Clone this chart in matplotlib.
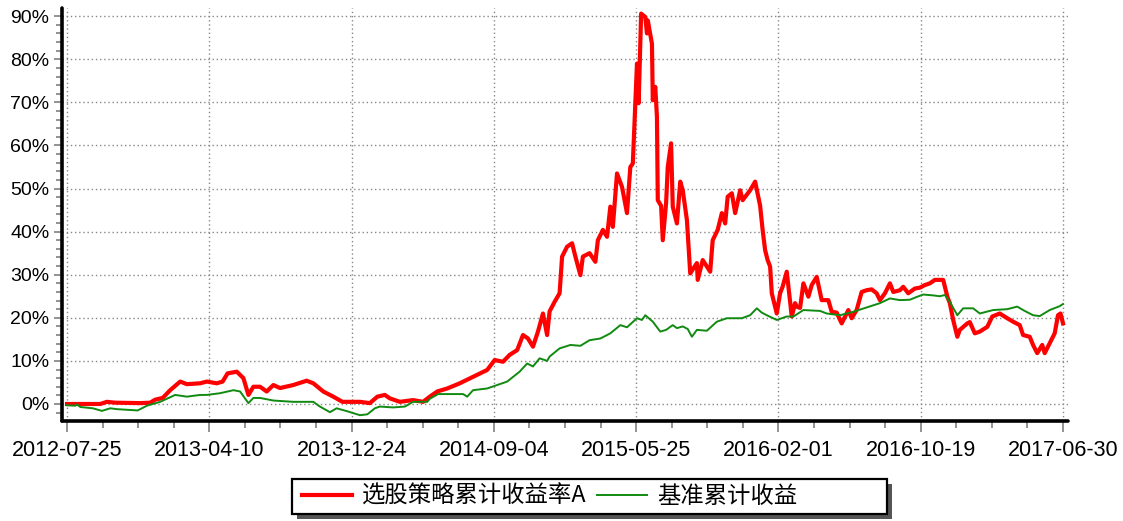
import matplotlib
matplotlib.use("Agg")
import matplotlib.pyplot as plt
from matplotlib.patches import Rectangle
from matplotlib.ticker import FixedLocator, MultipleLocator, FuncFormatter

plt.rcParams['font.family'] = ['Liberation Sans', 'Noto Sans CJK SC', 'DejaVu Sans']

# trading-day index, tick every 171 trading days
tick_days = [0, 171, 342, 513, 684, 855, 1026, 1197]
tick_labels = ['2012-07-25', '2013-04-10', '2013-12-24', '2014-09-04',
               '2015-05-25', '2016-02-01', '2016-10-19', '2017-06-30']

strategy_days = [0, 40, 48, 58, 88, 100, 106, 115, 124, 136, 144, 160, 168, 180, 187, 193, 204, 212,
                 218, 224, 232, 240, 248, 256, 272, 288, 296, 308, 320, 331, 341, 352, 364, 373, 382,
                 388, 400, 416, 428, 436, 445, 457, 472, 488, 505, 514, 524, 532, 541, 548, 554, 560,
                 566, 572, 577, 580, 586, 592, 595, 601, 607, 611, 617, 620, 628, 635, 638, 644, 649,
                 653, 656, 661, 667, 673, 677, 680, 685, 687, 690, 695, 697, 698, 703, 704, 707, 709,
                 710, 714, 716, 720, 722, 726, 728, 733, 737, 740, 745, 749, 757, 758, 764, 773, 776,
                 782, 787, 791, 794, 799, 803, 809, 812, 821, 827, 833, 836, 839, 842, 845, 847, 853,
                 857, 860, 865, 871, 875, 877, 881, 885, 891, 895, 901, 907, 915, 919, 925, 931, 939,
                 943, 949, 955, 961, 967, 973, 977, 983, 989, 993, 1001, 1005, 1011, 1019, 1025, 1031,
                 1037, 1043, 1053, 1058, 1061, 1065, 1070, 1073, 1082, 1085, 1091, 1097, 1106, 1112,
                 1121, 1130, 1137, 1145, 1149, 1157, 1161, 1166, 1172, 1175, 1181, 1187, 1191, 1194, 1197]
strategy_ret = [0.0, 0.0, 0.5, 0.3, 0.2, 0.3, 1.0, 1.4, 3.2, 5.2, 4.6, 4.8, 5.2, 4.8, 5.2, 7.1, 7.5, 6.0,
                2.1, 4.0, 4.0, 2.9, 4.4, 3.7, 4.4, 5.4, 4.8, 2.9, 1.7, 0.5, 0.5, 0.5, 0.2, 1.7, 2.1,
                1.3, 0.5, 0.9, 0.5, 1.7, 2.9, 3.6, 4.8, 6.3, 7.9, 10.2, 9.8, 11.4, 12.5, 16.0, 15.2, 13.3,
                16.8, 21.0, 16.0, 21.5, 23.7, 25.7, 34.2, 36.5, 37.3, 34.2, 29.9, 34.2, 35.0, 33.0, 38.0, 40.4, 38.8,
                45.8, 41.1, 53.5, 50.4, 44.3, 55.0, 55.8, 79.0, 69.8, 90.6, 89.8, 86.0, 89.0, 83.6, 70.5, 73.6, 66.6,
                47.3, 46.0, 38.0, 46.6, 55.0, 60.5, 45.8, 41.9, 51.6, 49.6, 42.7, 30.3, 32.7, 28.8, 33.4, 30.7, 38.0,
                40.4, 44.3, 41.9, 48.1, 48.9, 44.3, 49.6, 47.3, 49.6, 51.6, 46.0, 40.4, 35.7, 33.4, 31.9, 25.7, 21.0,
                25.7, 27.2, 30.7, 20.3, 23.4, 22.6, 22.3, 28.0, 24.9, 27.6, 29.5, 24.1, 24.1, 21.4, 21.2, 18.7, 21.8,
                19.9, 21.8, 26.0, 26.4, 26.6, 25.7, 24.1, 25.7, 28.0, 26.0, 26.4, 27.2, 25.7, 26.8, 27.0, 27.6,
                28.0, 28.8, 28.8, 24.9, 23.4, 19.5, 15.6, 17.2, 18.7, 19.0, 16.4, 16.8, 17.9, 20.3,
                21.0, 19.9, 19.1, 18.3, 16.0, 15.6, 13.7, 11.8, 13.7, 11.8, 14.1, 16.4, 20.6, 21.0, 18.7]

bench_days = [0, 10, 12, 16, 31, 42, 52, 60, 85, 96, 112, 130, 144, 160, 168, 184, 200, 208, 218, 224,
              232, 248, 272, 296, 304, 316, 324, 337, 352, 361, 370, 376, 392, 406, 416, 433, 436, 446,
              476, 481, 488, 505, 514, 529, 544, 553, 560, 568, 577, 580, 592, 605, 617, 628, 641, 653,
              665, 673, 685, 691, 695, 704, 713, 720, 728, 733, 740, 746, 751, 757, 769, 781, 793, 811,
              821, 829, 835, 841, 853, 865, 873, 885, 905, 913, 929, 945, 961, 977, 989, 1001, 1013, 1022,
              1029, 1041, 1049, 1055, 1061, 1070, 1077, 1089, 1097, 1113, 1130, 1142, 1149, 1161, 1169,
              1181, 1193, 1197]
bench_ret = [-0.3, -0.4, -0.1, -0.7, -1.0, -1.6, -1.0, -1.2, -1.5, -0.4, 0.5, 2.1, 1.7, 2.1, 2.1, 2.5, 3.2, 2.9, 0.2, 1.4,
             1.4, 0.8, 0.5, 0.5, -0.6, -1.9, -1.0, -1.7, -2.6, -2.4, -1.0, -0.6, -0.8, -0.6, 0.5, 0.5, 1.2, 2.3,
             2.3, 1.7, 3.2, 3.6, 4.2, 5.2, 7.5, 9.4, 8.7, 10.6, 10.0, 11.0, 12.9, 13.7, 13.5, 14.8, 15.2, 16.4,
             18.3, 17.8, 19.9, 19.5, 20.6, 19.1, 16.8, 17.2, 18.3, 17.6, 18.0, 17.4, 15.6, 17.2, 17.0, 19.1, 19.9, 19.9,
             20.6, 22.2, 21.2, 20.6, 19.5, 20.3, 20.3, 21.8, 21.6, 21.0, 20.6, 21.4, 22.4, 23.4, 24.5, 24.1, 24.2, 24.9,
             25.4, 25.2, 25.0, 25.3, 23.7, 20.6, 22.2, 22.2, 21.0, 21.8, 22.0, 22.6, 21.8, 20.6, 20.4,
             21.8, 22.7, 23.2]

strategy_label = '选股策略累计收益率A'
bench_label = '基准累计收益'

W, H = 1123, 521
fig = plt.figure(figsize=(W / 100, H / 100), dpi=100)
ax = fig.add_axes([62 / W, 100 / H, (1068 - 62) / W, (513 - 100) / H])

ln1, = ax.plot(strategy_days, strategy_ret, color='#ff0000', lw=3.0, solid_joinstyle='round')
ln2, = ax.plot(bench_days, bench_ret, color='#108a10', lw=1.4)

ax.set_xlim(-6, 1203)
ax.set_ylim(-3.95, 91.9)

ax.xaxis.set_major_locator(FixedLocator(tick_days))
ax.set_xticklabels(tick_labels)
ax.xaxis.set_minor_locator(MultipleLocator(171 / 4))
ax.yaxis.set_major_locator(MultipleLocator(10))
ax.yaxis.set_minor_locator(MultipleLocator(2))
ax.yaxis.set_major_formatter(FuncFormatter(lambda v, p: f'{v:.0f}%'))

for s in ['top', 'right']:
    ax.spines[s].set_visible(False)
for s in ['left', 'bottom']:
    ax.spines[s].set_linewidth(2.6)
    ax.spines[s].set_color('black')
    ax.spines[s].set_capstyle('round')

ax.tick_params(axis='x', which='major', length=8, width=1.2, color='#808080', labelsize=15.5, pad=6)
ax.tick_params(axis='x', which='minor', length=5, width=1.2, color='#808080')
ax.tick_params(axis='y', which='major', length=6, width=1.2, color='#808080', labelsize=14, pad=3)
ax.tick_params(axis='y', which='minor', length=4, width=1.2, color='#808080')

ax.grid(True, which='major', linestyle=(0, (1, 2)), color='#888888', linewidth=1.0)
ax.set_axisbelow(True)

# legend box with drop shadow
bx0, bx1, by_top, by_bot = 292, 887, 479, 514
fig.patches.append(Rectangle(((bx0 + 5) / W, (H - by_bot - 5) / H), (bx1 - bx0) / W, (by_bot - by_top) / H,
                             transform=fig.transFigure, facecolor='#555555', edgecolor='none', zorder=1))
fig.patches.append(Rectangle((bx0 / W, (H - by_bot) / H), (bx1 - bx0) / W, (by_bot - by_top) / H,
                             transform=fig.transFigure, facecolor='white', edgecolor='black',
                             linewidth=1.6, zorder=2))

fs = 16.8
leg = fig.legend([ln1, ln2], [strategy_label, bench_label],
                 loc='center left', bbox_to_anchor=(302 / W, (H - (by_top + by_bot) / 2) / H), ncol=2,
                 frameon=False, handlelength=50 / (fs * 100 / 72), columnspacing=0.45,
                 handletextpad=0.43, borderpad=0.0, borderaxespad=0.0,
                 prop={'family': ['Noto Sans CJK SC', 'DejaVu Sans'], 'size': fs})
leg.set_zorder(5)

fig.savefig('out.png', dpi=100)
